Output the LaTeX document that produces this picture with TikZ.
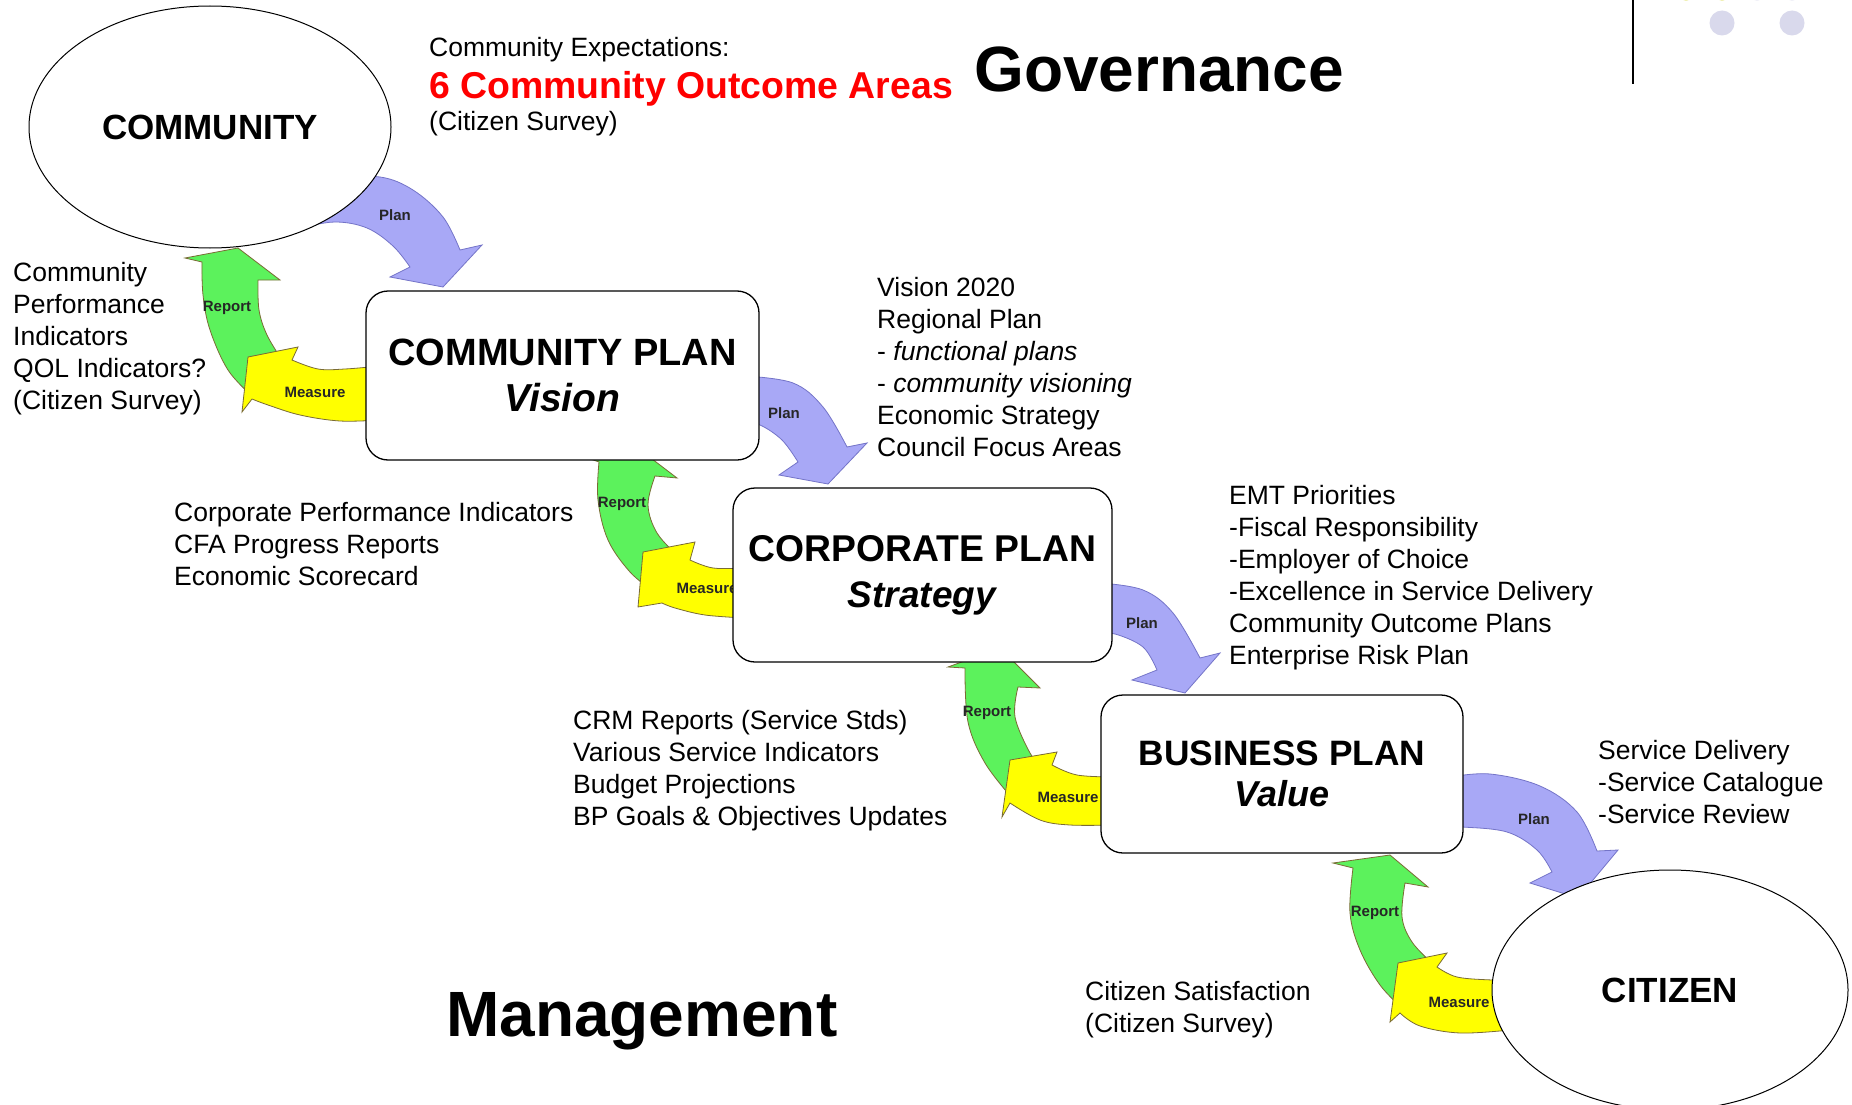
\documentclass[tikz,border=0pt]{standalone}
\usepackage{fontspec}
\setmainfont{Liberation Sans}
\usetikzlibrary{shapes.geometric}

\definecolor{planfill}{HTML}{A8A8F6}
\definecolor{planline}{HTML}{7474C8}
\definecolor{reportfill}{HTML}{5CF25C}
\definecolor{measurefill}{HTML}{FFFF00}
\definecolor{cycleline}{HTML}{7A6B35}
\definecolor{dotlav}{HTML}{D9D9EC}
\definecolor{dotyel}{HTML}{D6D62E}

% curved band arrow: outer edge, outer barb, tip, inner barb, inner edge
\newcommand\bandarrow[6]{%
  \filldraw[#1] plot[smooth, tension=0.6] coordinates {#2} -- #3 -- #4 -- #5
    -- plot[smooth, tension=0.6] coordinates {#6} -- cycle;}

% block of left-aligned lines, one node per line
\newcommand\textblock[4]{%
  \foreach \tline [count=\k] in {#4} {
    \node[body] (#1-\k) at ({#2}, {#3+(\k-1)*32}) {\tline};
  }}

% subtitle line of a plan box
\newcommand\subtitle[2]{{\fontsize{#1}{#1}\selectfont\textit{#2}}}

\begin{document}
\begin{tikzpicture}[x=1pt, y=-1pt,
  planA/.style={fill=planfill, draw=planline, line width=0.8pt},
  reportA/.style={fill=reportfill, draw=cycleline, line width=0.8pt},
  measureA/.style={fill=measurefill, draw=cycleline, line width=0.8pt},
  lbl/.style={font=\fontsize{15}{15}\selectfont\bfseries, inner sep=0pt, text=black!85},
  body/.style={font=\fontsize{26.5}{32}\selectfont, inner sep=0pt, anchor=base west},
  planbox/.style={draw, fill=white, rounded corners=22pt, line width=1.3pt,
    inner sep=0pt, align=center},
  oval/.style={ellipse, draw, fill=white, line width=1pt, inner sep=0pt,
    font=\fontsize{35}{35}\selectfont\bfseries},
  headline/.style={font=\fontsize{64}{64}\selectfont\bfseries, inner sep=0pt, anchor=base west}
]
\fill[white] (0,0) rectangle (1852,1105);
\useasboundingbox (0,0) rectangle (1852,1105);

% corner ornament
\draw[line width=2pt] (1633,0) -- (1633,84);
\fill[dotyel] (1686,-12) circle[radius=12.5] (1722,-12) circle[radius=12.5];
\fill[dotlav] (1757,-12) circle[radius=12.5] (1792,-12) circle[radius=12.5];
\fill[dotlav] (1722,23) circle[radius=12.5] (1792,23) circle[radius=12.5];

% ---- cycle 1: community -> community plan
\bandarrow{planA}{(300,195) (340,180) (380,177) (413,190) (443,217) (460,250)}{(482,245)}{(443,287)}{(390,277)}{(410,267) (393,246) (367,228) (335,222) (300,228)}
\bandarrow{reportA}{(252,396) (228,370) (210,330) (203,295) (202,262)}{(185,258)}{(238,248)}{(280,280)}{(258,280) (259,310) (267,335) (282,360)}
\bandarrow{measureA}{(380,420) (340,421) (300,415) (268,405) (252,399)}{(242,412)}{(248,357)}{(298,347)}{(292,360) (318,369) (345,369) (380,366)}

% ---- cycle 2: community plan -> corporate plan
\bandarrow{planA}{(745,376) (793,383) (823,407) (847,447)}{(867,443)}{(828,484)}{(779,475)}{(798,462) (782,440) (760,425) (745,424)}
\bandarrow{reportA}{(652,590) (630,572) (608,540) (598,500) (599,462)}{(582,456)}{(635,446)}{(677,478)}{(655,476) (648,505) (657,533) (678,556)}
\bandarrow{measureA}{(745,618) (705,615) (675,608) (662,603)}{(638,607)}{(643,552)}{(695,542)}{(690,560) (713,568) (745,568)}

% ---- cycle 3: corporate plan -> business plan
\bandarrow{planA}{(1100,583) (1143,590) (1173,613) (1200,658)}{(1220,653)}{(1185,693)}{(1132,680)}{(1157,670) (1143,647) (1115,634) (1100,635)}
\bandarrow{reportA}{(1012,798) (985,763) (968,722) (965,668)}{(948,667)}{(1000,648)}{(1040,688)}{(1018,687) (1015,717) (1030,753) (1040,763)}
\bandarrow{measureA}{(1115,825) (1070,825) (1040,820) (1010,803)}{(1002,817)}{(1010,760)}{(1057,752)}{(1052,765) (1077,775) (1115,777)}

% ---- cycle 4: business plan -> citizen
\bandarrow{planA}{(1450,777) (1490,774) (1540,786) (1577,812) (1597,851)}{(1618,850)}{(1578,898)}{(1530,883)}{(1552,872) (1537,850) (1507,832) (1462,827) (1450,828)}
\bandarrow{reportA}{(1402,1008) (1380,985) (1360,950) (1350,913) (1353,868)}{(1333,863)}{(1390,855)}{(1428,887)}{(1405,883) (1402,917) (1412,942) (1432,963)}
\bandarrow{measureA}{(1510,1030) (1460,1033) (1420,1026) (1400,1013)}{(1390,1022)}{(1398,963)}{(1447,953)}{(1437,967) (1457,977) (1492,980) (1510,980)}

% arrow labels
\node[lbl] (plan1) at (395,215) {Plan};
\node[lbl] (report1) at (227,308) {Report};
\node[lbl] (measure1) at (315,392) {Measure};
\node[lbl] (plan2) at (784,413) {Plan};
\node[lbl] (report2) at (622,504) {Report};
\node[lbl] (measure2) at (707,588) {Measure};
\node[lbl] (plan3) at (1142,623) {Plan};
\node[lbl] (report3) at (987,713) {Report};
\node[lbl] (measure3) at (1068,797) {Measure};
\node[lbl] (plan4) at (1534,819) {Plan};
\node[lbl] (report4) at (1375,913) {Report};
\node[lbl] (measure4) at (1459,1002) {Measure};

% ovals and plan boxes
\node[oval, minimum width=362pt, minimum height=242pt] (community) at (210,127) {COMMUNITY};
\node[oval, minimum width=356pt, minimum height=240pt] (citizen) at (1670,990) {CITIZEN};

\node[planbox, minimum width=393pt, minimum height=169pt,
  font=\fontsize{38}{46}\selectfont\bfseries] (cplan) at (562.5,375.5)
  {COMMUNITY PLAN\\\subtitle{39}{Vision}};
\node[planbox, minimum width=379pt, minimum height=174pt,
  font=\fontsize{37.3}{46}\selectfont\bfseries] (corpplan) at (922.5,575)
  {CORPORATE PLAN\\\subtitle{37}{Strategy}};
\node[planbox, minimum width=362pt, minimum height=158pt,
  font=\fontsize{35.3}{41}\selectfont\bfseries] (bizplan) at (1282,774)
  {BUSINESS PLAN\\\subtitle{36}{Value}};

% annotations
\node[body] (expect) at (429,57) {Community Expectations:};
\node[body, font=\fontsize{37.4}{37.4}\selectfont\bfseries, text=red] (outcomes) at (429,99) {6 Community Outcome Areas};
\node[body] (survey) at (429,131) {(Citizen Survey)};

\textblock{cpi}{13}{281}{Community, Performance, Indicators, QOL Indicators?, (Citizen Survey)}
\textblock{vis}{877}{296}{Vision 2020, Regional Plan, - \textit{functional plans}, - \textit{community visioning}, Economic Strategy, Council Focus Areas}
\textblock{corp}{174}{521}{Corporate Performance Indicators, CFA Progress Reports, Economic Scorecard}
\textblock{emt}{1229}{504}{EMT Priorities, -Fiscal Responsibility, -Employer of Choice, -Excellence in Service Delivery, Community Outcome Plans, Enterprise Risk Plan}
\textblock{crm}{573}{729}{CRM Reports (Service Stds), Various Service Indicators, Budget Projections, BP Goals \& Objectives Updates}
\textblock{svc}{1598}{759}{Service Delivery, -Service Catalogue, -Service Review}
\textblock{sat}{1085}{1000}{Citizen Satisfaction, (Citizen Survey)}

\node[headline] (gov) at (974,92) {Governance};
\node[headline] (mgmt) at (446,1036) {Management};
\end{tikzpicture}
\end{document}
